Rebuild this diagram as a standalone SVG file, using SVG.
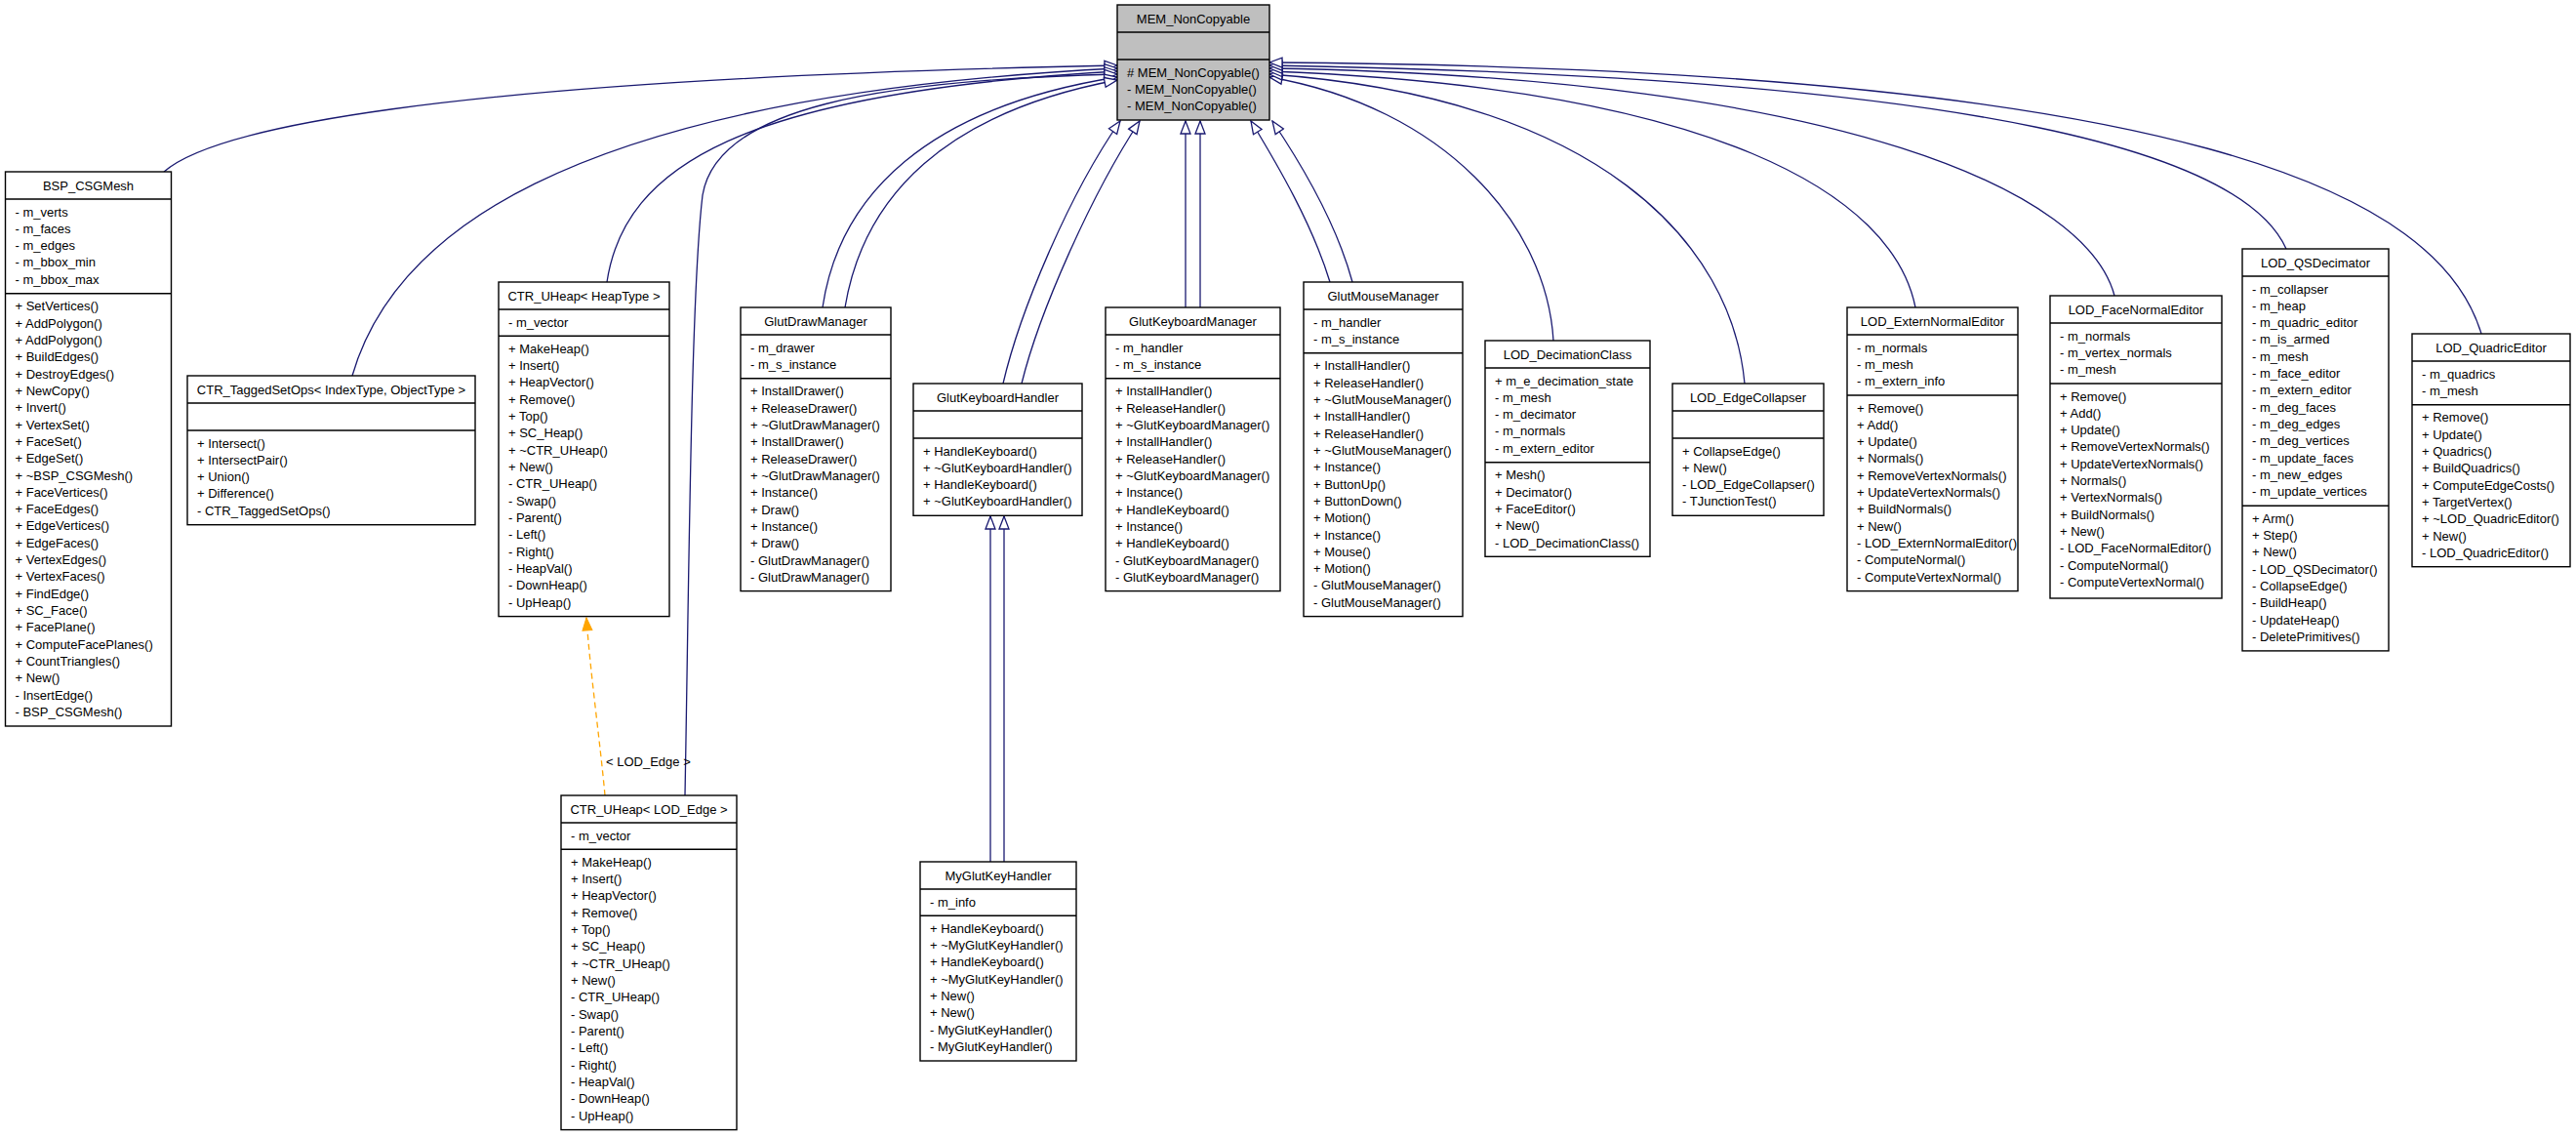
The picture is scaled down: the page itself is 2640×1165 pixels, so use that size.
<svg xmlns="http://www.w3.org/2000/svg" width="2640" height="1165" viewBox="0 0 2640 1165">
<style>
.box{fill:#fff;stroke:#000;stroke-width:1.4}
.gray{fill:#bfbfbf}
.sep{fill:none;stroke:#000;stroke-width:1.4}
text{font-family:"Liberation Sans",Arial,Helvetica,sans-serif;font-size:13px;fill:#000}
.t{text-anchor:middle}
.e{fill:none;stroke:#191970;stroke-width:1.3;marker-end:url(#inh)}
.tp{fill:none;stroke:#ffa500;stroke-width:1.3;stroke-dasharray:6,4;marker-end:url(#tri)}
</style>
<defs>
<marker id="inh" markerUnits="userSpaceOnUse" markerWidth="15" markerHeight="13" viewBox="0 0 15 13" refX="14" refY="6.5" orient="auto">
<path d="M1,1.5 L14,6.5 L1,11.5 Z" fill="#fff" stroke="#191970" stroke-width="1.3"/>
</marker>
<marker id="tri" markerUnits="userSpaceOnUse" markerWidth="15" markerHeight="13" viewBox="0 0 15 13" refX="14" refY="6.5" orient="auto">
<path d="M1,1.5 L14,6.5 L1,11.5 Z" fill="#ffa500" stroke="#ffa500" stroke-width="1"/>
</marker>
</defs>
<rect width="2640" height="1165" fill="#fff"/>
<g id="connectors">
<path class="e" d="M168,176 C215,135 420,82 1145,67"/>
<path class="e" d="M361,385 C400,250 560,100 1145,70"/>
<path class="e" d="M622,289 C640,170 760,95 1145,73"/>
<path class="e" d="M702,815 C706,600 708,300 720,200 C735,110 900,82 1145,76"/>
<path class="e" d="M843,315 C860,200 950,110 1145,79"/>
<path class="e" d="M866,315 C885,200 970,115 1145,82"/>
<path class="e" d="M1028,393 C1045,320 1095,200 1148,124"/>
<path class="e" d="M1047,393 C1065,320 1118,200 1168,124"/>
<path class="e" d="M1215,315 L1215,124"/>
<path class="e" d="M1230,315 L1230,124"/>
<path class="e" d="M1363,289 C1345,230 1310,170 1282,124"/>
<path class="e" d="M1386,289 C1370,230 1335,170 1304,124"/>
<path class="e" d="M1015,883 L1015,529"/>
<path class="e" d="M1029,883 L1029,529"/>
<path class="e" d="M1592,349 C1585,230 1480,110 1301,79"/>
<path class="e" d="M1788,393 C1775,250 1640,100 1301,76"/>
<path class="e" d="M1963,315 C1940,200 1760,90 1301,73"/>
<path class="e" d="M2167,303 C2140,200 1900,80 1301,70"/>
<path class="e" d="M2343,255 C2300,160 2050,80 1301,67"/>
<path class="e" d="M2543,342 C2500,200 2250,70 1301,64"/>
<path class="tp" d="M620,815 C615,760 605,690 601,633"/>
<text x="621" y="785">&lt; LOD_Edge &gt;</text>
</g>
<g id="MEM_NonCopyable">
<rect class="box gray" x="1145" y="5" width="156" height="118"/>
<path class="sep" d="M1145,33 H1301 M1145,61 H1301"/>
<text class="t" x="1223" y="23.5">MEM_NonCopyable</text>
<text x="1155" y="78.5"><tspan x="1155"># MEM_NonCopyable()</tspan><tspan x="1155" dy="17.33">- MEM_NonCopyable()</tspan><tspan x="1155" dy="17.33">- MEM_NonCopyable()</tspan></text>
</g>
<g id="BSP_CSGMesh">
<rect class="box" x="5.5" y="176" width="170" height="568"/>
<path class="sep" d="M5.5,204 H175.5 M5.5,300.7 H175.5"/>
<text class="t" x="90.5" y="194.5">BSP_CSGMesh</text>
<text x="15.5" y="221.5"><tspan x="15.5">- m_verts</tspan><tspan x="15.5" dy="17.33">- m_faces</tspan><tspan x="15.5" dy="17.33">- m_edges</tspan><tspan x="15.5" dy="17.33">- m_bbox_min</tspan><tspan x="15.5" dy="17.33">- m_bbox_max</tspan></text>
<text x="15.5" y="318.2"><tspan x="15.5">+ SetVertices()</tspan><tspan x="15.5" dy="17.33">+ AddPolygon()</tspan><tspan x="15.5" dy="17.33">+ AddPolygon()</tspan><tspan x="15.5" dy="17.33">+ BuildEdges()</tspan><tspan x="15.5" dy="17.33">+ DestroyEdges()</tspan><tspan x="15.5" dy="17.33">+ NewCopy()</tspan><tspan x="15.5" dy="17.33">+ Invert()</tspan><tspan x="15.5" dy="17.33">+ VertexSet()</tspan><tspan x="15.5" dy="17.33">+ FaceSet()</tspan><tspan x="15.5" dy="17.33">+ EdgeSet()</tspan><tspan x="15.5" dy="17.33">+ ~BSP_CSGMesh()</tspan><tspan x="15.5" dy="17.33">+ FaceVertices()</tspan><tspan x="15.5" dy="17.33">+ FaceEdges()</tspan><tspan x="15.5" dy="17.33">+ EdgeVertices()</tspan><tspan x="15.5" dy="17.33">+ EdgeFaces()</tspan><tspan x="15.5" dy="17.33">+ VertexEdges()</tspan><tspan x="15.5" dy="17.33">+ VertexFaces()</tspan><tspan x="15.5" dy="17.33">+ FindEdge()</tspan><tspan x="15.5" dy="17.33">+ SC_Face()</tspan><tspan x="15.5" dy="17.33">+ FacePlane()</tspan><tspan x="15.5" dy="17.33">+ ComputeFacePlanes()</tspan><tspan x="15.5" dy="17.33">+ CountTriangles()</tspan><tspan x="15.5" dy="17.33">+ New()</tspan><tspan x="15.5" dy="17.33">- InsertEdge()</tspan><tspan x="15.5" dy="17.33">- BSP_CSGMesh()</tspan></text>
</g>
<g id="CTR_TaggedSetOps">
<rect class="box" x="192" y="385" width="295" height="152.7"/>
<path class="sep" d="M192,413 H487 M192,441 H487"/>
<text class="t" x="339.5" y="403.5">CTR_TaggedSetOps&lt; IndexType, ObjectType &gt;</text>
<text x="202" y="458.5"><tspan x="202">+ Intersect()</tspan><tspan x="202" dy="17.33">+ IntersectPair()</tspan><tspan x="202" dy="17.33">+ Union()</tspan><tspan x="202" dy="17.33">+ Difference()</tspan><tspan x="202" dy="17.33">- CTR_TaggedSetOps()</tspan></text>
</g>
<g id="CTR_UHeap_HeapType">
<rect class="box" x="511" y="289" width="175" height="342.6"/>
<path class="sep" d="M511,317 H686 M511,344.3 H686"/>
<text class="t" x="598.5" y="307.5">CTR_UHeap&lt; HeapType &gt;</text>
<text x="521" y="334.5">- m_vector</text>
<text x="521" y="361.8"><tspan x="521">+ MakeHeap()</tspan><tspan x="521" dy="17.33">+ Insert()</tspan><tspan x="521" dy="17.33">+ HeapVector()</tspan><tspan x="521" dy="17.33">+ Remove()</tspan><tspan x="521" dy="17.33">+ Top()</tspan><tspan x="521" dy="17.33">+ SC_Heap()</tspan><tspan x="521" dy="17.33">+ ~CTR_UHeap()</tspan><tspan x="521" dy="17.33">+ New()</tspan><tspan x="521" dy="17.33">- CTR_UHeap()</tspan><tspan x="521" dy="17.33">- Swap()</tspan><tspan x="521" dy="17.33">- Parent()</tspan><tspan x="521" dy="17.33">- Left()</tspan><tspan x="521" dy="17.33">- Right()</tspan><tspan x="521" dy="17.33">- HeapVal()</tspan><tspan x="521" dy="17.33">- DownHeap()</tspan><tspan x="521" dy="17.33">- UpHeap()</tspan></text>
</g>
<g id="CTR_UHeap_LOD_Edge">
<rect class="box" x="575" y="815" width="180" height="342.6"/>
<path class="sep" d="M575,843 H755 M575,870.3 H755"/>
<text class="t" x="665" y="833.5">CTR_UHeap&lt; LOD_Edge &gt;</text>
<text x="585" y="860.5">- m_vector</text>
<text x="585" y="887.8"><tspan x="585">+ MakeHeap()</tspan><tspan x="585" dy="17.33">+ Insert()</tspan><tspan x="585" dy="17.33">+ HeapVector()</tspan><tspan x="585" dy="17.33">+ Remove()</tspan><tspan x="585" dy="17.33">+ Top()</tspan><tspan x="585" dy="17.33">+ SC_Heap()</tspan><tspan x="585" dy="17.33">+ ~CTR_UHeap()</tspan><tspan x="585" dy="17.33">+ New()</tspan><tspan x="585" dy="17.33">- CTR_UHeap()</tspan><tspan x="585" dy="17.33">- Swap()</tspan><tspan x="585" dy="17.33">- Parent()</tspan><tspan x="585" dy="17.33">- Left()</tspan><tspan x="585" dy="17.33">- Right()</tspan><tspan x="585" dy="17.33">- HeapVal()</tspan><tspan x="585" dy="17.33">- DownHeap()</tspan><tspan x="585" dy="17.33">- UpHeap()</tspan></text>
</g>
<g id="GlutDrawManager">
<rect class="box" x="759" y="315" width="154" height="290.6"/>
<path class="sep" d="M759,343 H913 M759,387.7 H913"/>
<text class="t" x="836" y="333.5">GlutDrawManager</text>
<text x="769" y="360.5"><tspan x="769">- m_drawer</tspan><tspan x="769" dy="17.33">- m_s_instance</tspan></text>
<text x="769" y="405.2"><tspan x="769">+ InstallDrawer()</tspan><tspan x="769" dy="17.33">+ ReleaseDrawer()</tspan><tspan x="769" dy="17.33">+ ~GlutDrawManager()</tspan><tspan x="769" dy="17.33">+ InstallDrawer()</tspan><tspan x="769" dy="17.33">+ ReleaseDrawer()</tspan><tspan x="769" dy="17.33">+ ~GlutDrawManager()</tspan><tspan x="769" dy="17.33">+ Instance()</tspan><tspan x="769" dy="17.33">+ Draw()</tspan><tspan x="769" dy="17.33">+ Instance()</tspan><tspan x="769" dy="17.33">+ Draw()</tspan><tspan x="769" dy="17.33">- GlutDrawManager()</tspan><tspan x="769" dy="17.33">- GlutDrawManager()</tspan></text>
</g>
<g id="GlutKeyboardHandler">
<rect class="box" x="936" y="393" width="173" height="135.3"/>
<path class="sep" d="M936,421 H1109 M936,449 H1109"/>
<text class="t" x="1022.5" y="411.5">GlutKeyboardHandler</text>
<text x="946" y="466.5"><tspan x="946">+ HandleKeyboard()</tspan><tspan x="946" dy="17.33">+ ~GlutKeyboardHandler()</tspan><tspan x="946" dy="17.33">+ HandleKeyboard()</tspan><tspan x="946" dy="17.33">+ ~GlutKeyboardHandler()</tspan></text>
</g>
<g id="GlutKeyboardManager">
<rect class="box" x="1133" y="315" width="179" height="290.6"/>
<path class="sep" d="M1133,343 H1312 M1133,387.7 H1312"/>
<text class="t" x="1222.5" y="333.5">GlutKeyboardManager</text>
<text x="1143" y="360.5"><tspan x="1143">- m_handler</tspan><tspan x="1143" dy="17.33">- m_s_instance</tspan></text>
<text x="1143" y="405.2"><tspan x="1143">+ InstallHandler()</tspan><tspan x="1143" dy="17.33">+ ReleaseHandler()</tspan><tspan x="1143" dy="17.33">+ ~GlutKeyboardManager()</tspan><tspan x="1143" dy="17.33">+ InstallHandler()</tspan><tspan x="1143" dy="17.33">+ ReleaseHandler()</tspan><tspan x="1143" dy="17.33">+ ~GlutKeyboardManager()</tspan><tspan x="1143" dy="17.33">+ Instance()</tspan><tspan x="1143" dy="17.33">+ HandleKeyboard()</tspan><tspan x="1143" dy="17.33">+ Instance()</tspan><tspan x="1143" dy="17.33">+ HandleKeyboard()</tspan><tspan x="1143" dy="17.33">- GlutKeyboardManager()</tspan><tspan x="1143" dy="17.33">- GlutKeyboardManager()</tspan></text>
</g>
<g id="GlutMouseManager">
<rect class="box" x="1336" y="289" width="163" height="342.6"/>
<path class="sep" d="M1336,317 H1499 M1336,361.7 H1499"/>
<text class="t" x="1417.5" y="307.5">GlutMouseManager</text>
<text x="1346" y="334.5"><tspan x="1346">- m_handler</tspan><tspan x="1346" dy="17.33">- m_s_instance</tspan></text>
<text x="1346" y="379.2"><tspan x="1346">+ InstallHandler()</tspan><tspan x="1346" dy="17.33">+ ReleaseHandler()</tspan><tspan x="1346" dy="17.33">+ ~GlutMouseManager()</tspan><tspan x="1346" dy="17.33">+ InstallHandler()</tspan><tspan x="1346" dy="17.33">+ ReleaseHandler()</tspan><tspan x="1346" dy="17.33">+ ~GlutMouseManager()</tspan><tspan x="1346" dy="17.33">+ Instance()</tspan><tspan x="1346" dy="17.33">+ ButtonUp()</tspan><tspan x="1346" dy="17.33">+ ButtonDown()</tspan><tspan x="1346" dy="17.33">+ Motion()</tspan><tspan x="1346" dy="17.33">+ Instance()</tspan><tspan x="1346" dy="17.33">+ Mouse()</tspan><tspan x="1346" dy="17.33">+ Motion()</tspan><tspan x="1346" dy="17.33">- GlutMouseManager()</tspan><tspan x="1346" dy="17.33">- GlutMouseManager()</tspan></text>
</g>
<g id="MyGlutKeyHandler">
<rect class="box" x="943" y="883" width="160" height="204"/>
<path class="sep" d="M943,911 H1103 M943,938.3 H1103"/>
<text class="t" x="1023" y="901.5">MyGlutKeyHandler</text>
<text x="953" y="928.5">- m_info</text>
<text x="953" y="955.8"><tspan x="953">+ HandleKeyboard()</tspan><tspan x="953" dy="17.33">+ ~MyGlutKeyHandler()</tspan><tspan x="953" dy="17.33">+ HandleKeyboard()</tspan><tspan x="953" dy="17.33">+ ~MyGlutKeyHandler()</tspan><tspan x="953" dy="17.33">+ New()</tspan><tspan x="953" dy="17.33">+ New()</tspan><tspan x="953" dy="17.33">- MyGlutKeyHandler()</tspan><tspan x="953" dy="17.33">- MyGlutKeyHandler()</tspan></text>
</g>
<g id="LOD_DecimationClass">
<rect class="box" x="1522" y="349" width="169" height="221.3"/>
<path class="sep" d="M1522,377 H1691 M1522,473.7 H1691"/>
<text class="t" x="1606.5" y="367.5">LOD_DecimationClass</text>
<text x="1532" y="394.5"><tspan x="1532">+ m_e_decimation_state</tspan><tspan x="1532" dy="17.33">- m_mesh</tspan><tspan x="1532" dy="17.33">- m_decimator</tspan><tspan x="1532" dy="17.33">- m_normals</tspan><tspan x="1532" dy="17.33">- m_extern_editor</tspan></text>
<text x="1532" y="491.2"><tspan x="1532">+ Mesh()</tspan><tspan x="1532" dy="17.33">+ Decimator()</tspan><tspan x="1532" dy="17.33">+ FaceEditor()</tspan><tspan x="1532" dy="17.33">+ New()</tspan><tspan x="1532" dy="17.33">- LOD_DecimationClass()</tspan></text>
</g>
<g id="LOD_EdgeCollapser">
<rect class="box" x="1714" y="393" width="155" height="135.3"/>
<path class="sep" d="M1714,421 H1869 M1714,449 H1869"/>
<text class="t" x="1791.5" y="411.5">LOD_EdgeCollapser</text>
<text x="1724" y="466.5"><tspan x="1724">+ CollapseEdge()</tspan><tspan x="1724" dy="17.33">+ New()</tspan><tspan x="1724" dy="17.33">- LOD_EdgeCollapser()</tspan><tspan x="1724" dy="17.33">- TJunctionTest()</tspan></text>
</g>
<g id="LOD_ExternNormalEditor">
<rect class="box" x="1893" y="315" width="175" height="290.6"/>
<path class="sep" d="M1893,343 H2068 M1893,405 H2068"/>
<text class="t" x="1980.5" y="333.5">LOD_ExternNormalEditor</text>
<text x="1903" y="360.5"><tspan x="1903">- m_normals</tspan><tspan x="1903" dy="17.33">- m_mesh</tspan><tspan x="1903" dy="17.33">- m_extern_info</tspan></text>
<text x="1903" y="422.5"><tspan x="1903">+ Remove()</tspan><tspan x="1903" dy="17.33">+ Add()</tspan><tspan x="1903" dy="17.33">+ Update()</tspan><tspan x="1903" dy="17.33">+ Normals()</tspan><tspan x="1903" dy="17.33">+ RemoveVertexNormals()</tspan><tspan x="1903" dy="17.33">+ UpdateVertexNormals()</tspan><tspan x="1903" dy="17.33">+ BuildNormals()</tspan><tspan x="1903" dy="17.33">+ New()</tspan><tspan x="1903" dy="17.33">- LOD_ExternNormalEditor()</tspan><tspan x="1903" dy="17.33">- ComputeNormal()</tspan><tspan x="1903" dy="17.33">- ComputeVertexNormal()</tspan></text>
</g>
<g id="LOD_FaceNormalEditor">
<rect class="box" x="2101" y="303" width="176" height="310"/>
<path class="sep" d="M2101,331 H2277 M2101,393 H2277"/>
<text class="t" x="2189" y="321.5">LOD_FaceNormalEditor</text>
<text x="2111" y="348.5"><tspan x="2111">- m_normals</tspan><tspan x="2111" dy="17.33">- m_vertex_normals</tspan><tspan x="2111" dy="17.33">- m_mesh</tspan></text>
<text x="2111" y="410.5"><tspan x="2111">+ Remove()</tspan><tspan x="2111" dy="17.33">+ Add()</tspan><tspan x="2111" dy="17.33">+ Update()</tspan><tspan x="2111" dy="17.33">+ RemoveVertexNormals()</tspan><tspan x="2111" dy="17.33">+ UpdateVertexNormals()</tspan><tspan x="2111" dy="17.33">+ Normals()</tspan><tspan x="2111" dy="17.33">+ VertexNormals()</tspan><tspan x="2111" dy="17.33">+ BuildNormals()</tspan><tspan x="2111" dy="17.33">+ New()</tspan><tspan x="2111" dy="17.33">- LOD_FaceNormalEditor()</tspan><tspan x="2111" dy="17.33">- ComputeNormal()</tspan><tspan x="2111" dy="17.33">- ComputeVertexNormal()</tspan></text>
</g>
<g id="LOD_QSDecimator">
<rect class="box" x="2298" y="255" width="150" height="411.9"/>
<path class="sep" d="M2298,283 H2448 M2298,518.3 H2448"/>
<text class="t" x="2373" y="273.5">LOD_QSDecimator</text>
<text x="2308" y="300.5"><tspan x="2308">- m_collapser</tspan><tspan x="2308" dy="17.33">- m_heap</tspan><tspan x="2308" dy="17.33">- m_quadric_editor</tspan><tspan x="2308" dy="17.33">- m_is_armed</tspan><tspan x="2308" dy="17.33">- m_mesh</tspan><tspan x="2308" dy="17.33">- m_face_editor</tspan><tspan x="2308" dy="17.33">- m_extern_editor</tspan><tspan x="2308" dy="17.33">- m_deg_faces</tspan><tspan x="2308" dy="17.33">- m_deg_edges</tspan><tspan x="2308" dy="17.33">- m_deg_vertices</tspan><tspan x="2308" dy="17.33">- m_update_faces</tspan><tspan x="2308" dy="17.33">- m_new_edges</tspan><tspan x="2308" dy="17.33">- m_update_vertices</tspan></text>
<text x="2308" y="535.8"><tspan x="2308">+ Arm()</tspan><tspan x="2308" dy="17.33">+ Step()</tspan><tspan x="2308" dy="17.33">+ New()</tspan><tspan x="2308" dy="17.33">- LOD_QSDecimator()</tspan><tspan x="2308" dy="17.33">- CollapseEdge()</tspan><tspan x="2308" dy="17.33">- BuildHeap()</tspan><tspan x="2308" dy="17.33">- UpdateHeap()</tspan><tspan x="2308" dy="17.33">- DeletePrimitives()</tspan></text>
</g>
<g id="LOD_QuadricEditor">
<rect class="box" x="2472" y="342" width="162" height="238.7"/>
<path class="sep" d="M2472,370 H2634 M2472,414.7 H2634"/>
<text class="t" x="2553" y="360.5">LOD_QuadricEditor</text>
<text x="2482" y="387.5"><tspan x="2482">- m_quadrics</tspan><tspan x="2482" dy="17.33">- m_mesh</tspan></text>
<text x="2482" y="432.2"><tspan x="2482">+ Remove()</tspan><tspan x="2482" dy="17.33">+ Update()</tspan><tspan x="2482" dy="17.33">+ Quadrics()</tspan><tspan x="2482" dy="17.33">+ BuildQuadrics()</tspan><tspan x="2482" dy="17.33">+ ComputeEdgeCosts()</tspan><tspan x="2482" dy="17.33">+ TargetVertex()</tspan><tspan x="2482" dy="17.33">+ ~LOD_QuadricEditor()</tspan><tspan x="2482" dy="17.33">+ New()</tspan><tspan x="2482" dy="17.33">- LOD_QuadricEditor()</tspan></text>
</g>
</svg>
